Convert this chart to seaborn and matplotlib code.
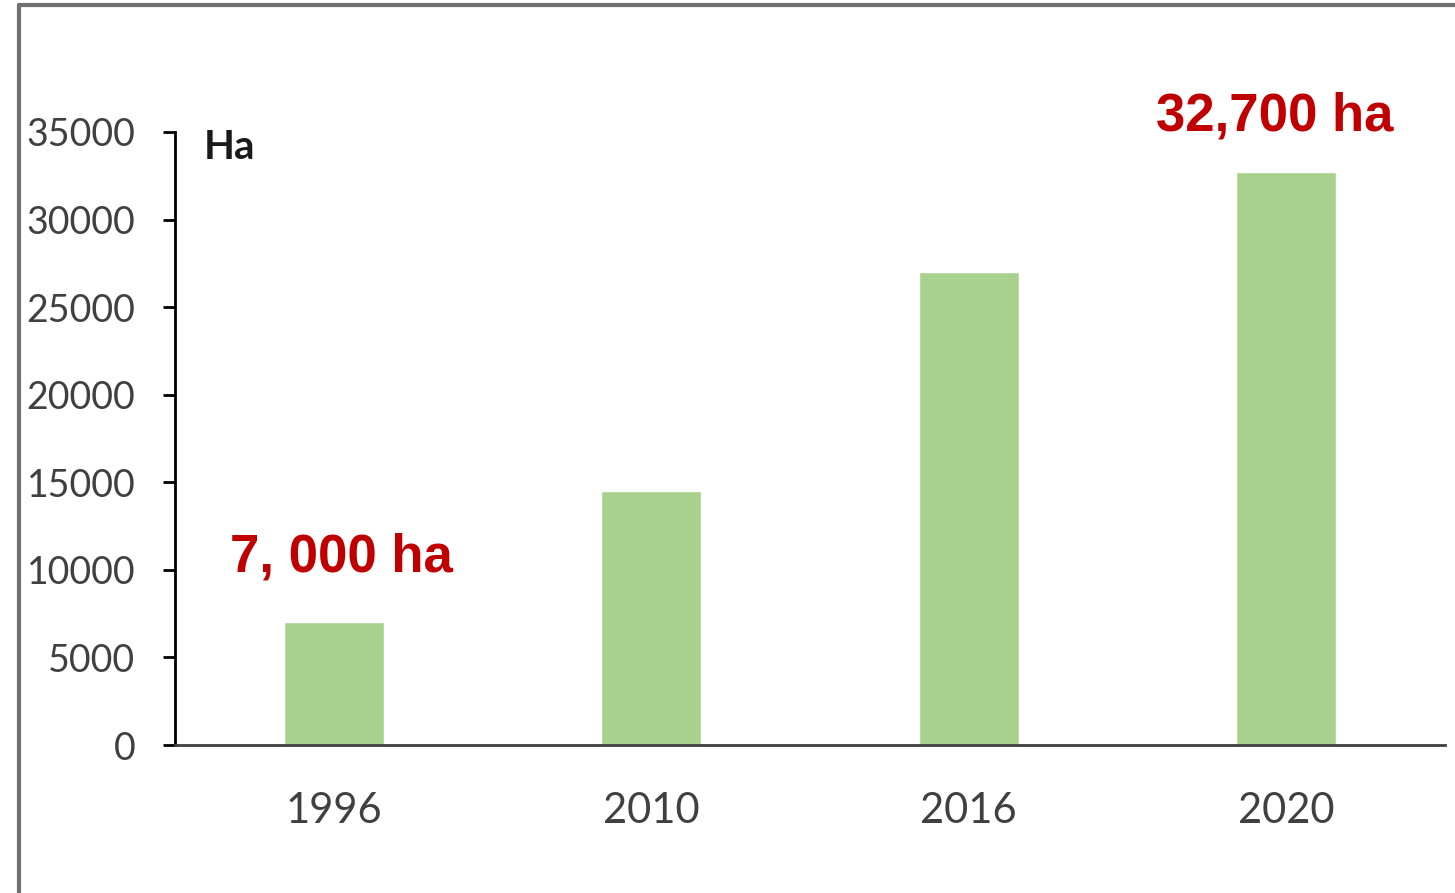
import matplotlib
matplotlib.use("Agg")
import matplotlib.pyplot as plt
import seaborn as sns
from matplotlib.lines import Line2D

years = ["1996", "2010", "2016", "2020"]
areas = [7000, 14500, 27000, 32700]
yticks = [0, 5000, 10000, 15000, 20000, 25000, 30000, 35000]

sns.set_style("white")
plt.rcParams['font.family'] = ['Lato', 'DejaVu Sans']

fig = plt.figure(figsize=(14.55, 8.93), dpi=100)
ax = fig.add_axes([0.1203, 0.1657, 0.8727, 0.6865])

sns.barplot(x=years, y=areas, color="#A9D18E", width=0.315, saturation=1, ax=ax)

ax.set_xlim(-0.5, 3.5)
ax.set_ylim(0, 35000)
ax.set_yticks(yticks)
ax.set_yticklabels([str(v) for v in yticks])
sns.despine(ax=ax)
ax.spines["left"].set_color("black")
ax.spines["left"].set_linewidth(2)
ax.spines["bottom"].set_color("#404040")
ax.spines["bottom"].set_linewidth(2)
ax.tick_params(axis="y", which="major", left=True, length=8.5, width=2,
               color="black", labelsize=27, labelcolor="#404040", pad=20)
ax.tick_params(axis="x", bottom=False, labelsize=30, labelcolor="#404040", pad=30)

# unit label
ax.text(0.023, 0.975, "Ha", transform=ax.transAxes, fontsize=29,
        fontweight="bold", color="#1a1a1a", va="center", ha="left")

# highlighted values
ax.text(0.025, 10700, "7, 000 ha", fontsize=38, fontweight="bold", color="#C00000",
        family="Liberation Sans", ha="center", va="center")
ax.text(2.965, 35900, "32,700 ha", fontsize=38, fontweight="bold", color="#C00000",
        family="Liberation Sans", ha="center", va="center", clip_on=False)

# outer frame
fig.add_artist(Line2D([0.013, 1.0], [0.994, 0.994], color="#707070", lw=3,
                      transform=fig.transFigure))
fig.add_artist(Line2D([0.013, 0.013], [0.0, 0.994], color="#707070", lw=3,
                      transform=fig.transFigure))

fig.savefig("out.png", dpi=100)
